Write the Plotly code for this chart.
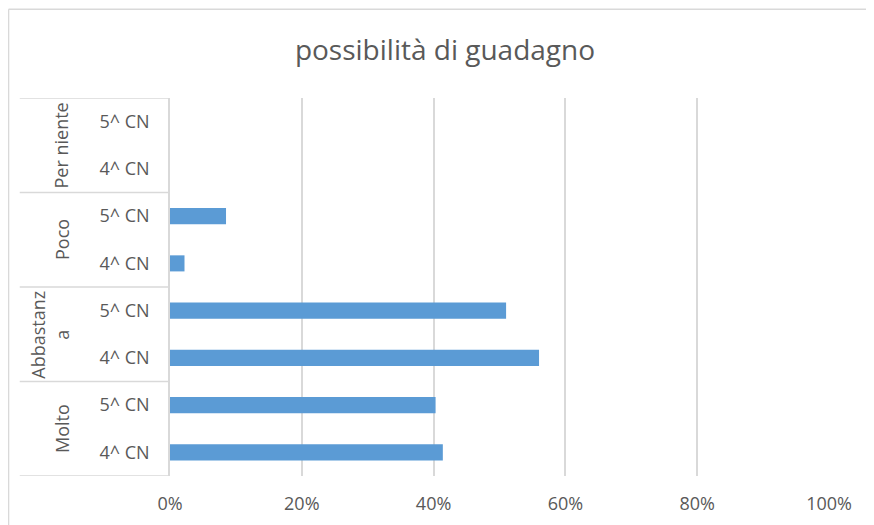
"""Excel-style horizontal bar chart: possibilità di guadagno."""

import plotly.graph_objects as go

# data, bottom to top
groups = ["Molto", "Abbastanza", "Poco", "Per niente"]
group_labels = ["Molto", "Abbastanz<br>a", "Poco", "Per niente"]
classes = ["4^ CN", "5^ CN"]
pct_4cn = [0.414, 0.560, 0.022, 0.0]
pct_5cn = [0.403, 0.510, 0.085, 0.0]
x_ticks = [0, 0.2, 0.4, 0.6, 0.8, 1.0]

GRID = "#d9d9d9"
TEXT = "#595959"
BAR = "#5b9bd5"
FONT = "Open Sans"

# one numeric slot per (group, class) row
ypos, xval, ylab = [], [], []
for gi, group in enumerate(groups):
    for ci, cls in enumerate(classes):
        ypos.append(gi * len(classes) + ci)
        xval.append(pct_4cn[gi] if ci == 0 else pct_5cn[gi])
        ylab.append(cls)

fig = go.Figure(
    go.Bar(
        x=xval,
        y=ypos,
        orientation="h",
        marker=dict(color=BAR, line=dict(width=0)),
        hovertemplate="%{x:.1%}<extra></extra>",
    )
)

# group labels, rotated, in the left column
label_x = [-0.165, -0.183, -0.165, -0.165]
annotations = []
for gi, lab in enumerate(group_labels):
    annotations.append(
        dict(
            text=lab,
            x=label_x[gi],
            xref="paper",
            xanchor="center",
            y=gi * len(classes) + 0.5,
            yref="y",
            yanchor="middle",
            textangle=-90,
            showarrow=False,
            font=dict(family=FONT, size=18, color=TEXT),
        )
    )

# group separators and outer chart border
shapes = []
for gi in range(len(groups) + 1):
    yb = gi * len(classes) - 0.5
    shapes.append(
        dict(
            type="line", xref="paper", yref="y",
            x0=-0.228, x1=0, y0=yb, y1=yb,
            line=dict(color=GRID, width=1.5),
        )
    )
shapes.append(
    dict(type="line", xref="paper", yref="paper",
         x0=-0.245, x1=-0.245, y0=-0.2, y1=1.235,
         line=dict(color=GRID, width=1.5))
)
shapes.append(
    dict(type="line", xref="paper", yref="paper",
         x0=-0.245, x1=1.2, y0=1.235, y1=1.235,
         line=dict(color=GRID, width=1.5))
)

fig.update_layout(
    width=874,
    height=525,
    margin=dict(l=162, r=53, t=90, b=57),
    paper_bgcolor="white",
    plot_bgcolor="white",
    bargap=0.66,
    showlegend=False,
    title=dict(
        text="possibilità di guadagno",
        x=0.5,
        xanchor="center",
        y=0.92,
        yanchor="middle",
        font=dict(family=FONT, size=28, color=TEXT),
    ),
    annotations=annotations,
    shapes=shapes,
)

fig.update_xaxes(
    range=[0, 1],
    tickvals=x_ticks,
    tickformat=".0%",
    showgrid=True,
    gridcolor=GRID,
    gridwidth=1.5,
    zeroline=False,
    showline=False,
    ticklabelstandoff=15,
    tickfont=dict(family=FONT, size=18, color=TEXT),
)

fig.update_yaxes(
    range=[-0.5, len(ypos) - 0.5],
    tickvals=ypos,
    ticktext=ylab,
    showgrid=False,
    zeroline=False,
    showline=True,
    linecolor=GRID,
    linewidth=1.5,
    ticks="",
    ticklabelstandoff=15,
    tickfont=dict(family=FONT, size=18, color=TEXT),
)

fig.write_html("out.html")
